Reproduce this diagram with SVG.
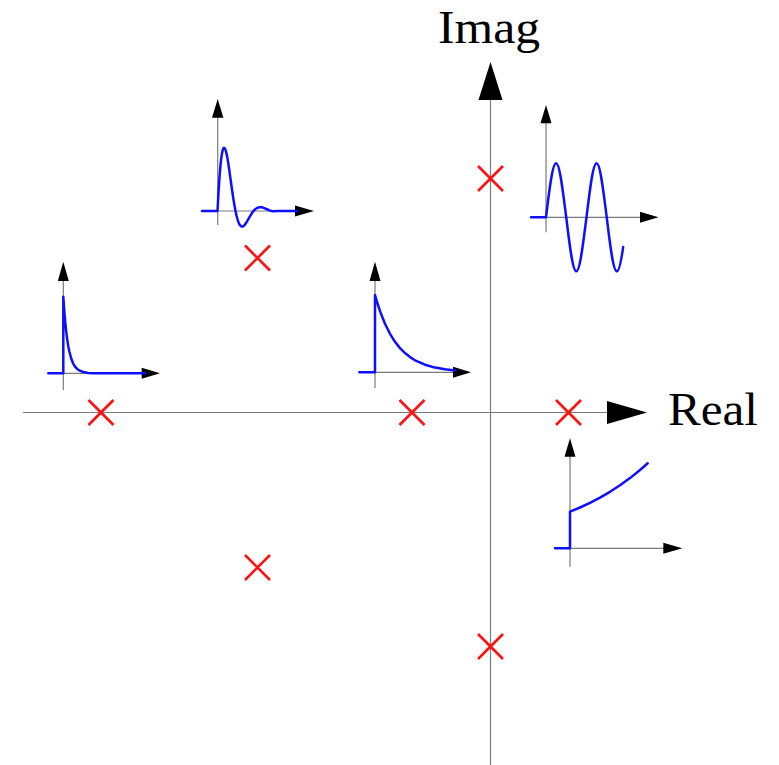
<svg xmlns="http://www.w3.org/2000/svg" width="779" height="765" viewBox="0 0 779 765">
<style>
.ax{stroke:#7a7a7a;stroke-width:1.2;fill:none}
.ah{fill:#000;stroke:none}
.sig{stroke:#0f0fff;stroke-width:2.5;fill:none;stroke-linejoin:round;stroke-linecap:round}
.pole{stroke:#ff1010;stroke-width:2.6;fill:none}
.lbl{font-family:"Liberation Serif","DejaVu Serif",serif;font-size:46px;fill:#000}
</style>
<defs>
<path id="x" d="M-12.5,-12.5 L12.5,12.5 M-12.5,12.5 L12.5,-12.5"/>
</defs>
<g id="axes">
<line class="ax" x1="23" y1="412.5" x2="608" y2="412.5"/>
<polygon class="ah" points="607,401 647,412.5 607,424"/>
<line class="ax" x1="490.5" y1="765" x2="490.5" y2="99"/>
<polygon class="ah" points="478.5,100 490.5,62 502.5,100"/>
<text class="lbl" x="438" y="43" textLength="102" lengthAdjust="spacingAndGlyphs">Imag</text>
<text class="lbl" x="668" y="425" textLength="90" lengthAdjust="spacingAndGlyphs">Real</text>
</g>
<g id="poles">
<use id="pole-real-far" class="pole" href="#x" x="101" y="412.5"/>
<use id="pole-real-near" class="pole" href="#x" x="412" y="412.5"/>
<use id="pole-real-pos" class="pole" href="#x" x="568.5" y="412.5"/>
<use id="pole-cplx-up" class="pole" href="#x" x="257.5" y="258"/>
<use id="pole-cplx-down" class="pole" href="#x" x="257.5" y="567.5"/>
<use id="pole-imag-up" class="pole" href="#x" x="490.5" y="178.5"/>
<use id="pole-imag-down" class="pole" href="#x" x="490.5" y="646.5"/>
</g>
<g id="inset-damped">
<line class="ax" x1="217.7" y1="225" x2="217.7" y2="117"/>
<polygon class="ah" points="212,117.7 217.7,99 223.4,117.7"/>
<line class="ax" x1="202" y1="211" x2="296" y2="211"/>
<polygon class="ah" points="295,205.5 314,211 295,216.5"/>
<polyline class="sig" points="202,211 217.5,211 218.5,192.4 219.5,177.1 220.5,165.1 221.5,156.4 222.5,150.8 223.5,148.1 224.5,147.9 225.5,149.8 226.5,153.5 227.5,158.6 228.5,164.8 229.5,171.6 230.5,178.8 231.5,186 232.5,193 233.5,199.6 234.5,205.5 235.5,211 236.5,215.5 237.5,219.3 238.5,222.2 239.5,224.4 240.5,225.8 241.5,226.5 242.5,226.6 243.5,226 244.5,225.1 245.5,223.9 247.5,220.7 249.5,217.1 251.5,213.8 253.5,211 255.5,209 257.5,207.7 259.5,207.2 261.5,207.3 263.5,207.8 265.5,208.6 267.5,209.5 269.5,210.4 271.5,211 273.5,211.3 277.5,211.1 281,211 297,211"/>
</g>
<g id="inset-fast-decay">
<line class="ax" x1="63.3" y1="390" x2="63.3" y2="280"/>
<polygon class="ah" points="57.8,281 63.3,261.7 68.8,281"/>
<line class="ax" x1="48.3" y1="373.3" x2="143" y2="373.3"/>
<polygon class="ah" points="141.7,367.8 160,373.3 141.7,378.8"/>
<polyline class="sig" points="48.3,373.3 63.3,373.3 63.3,296.7 64.3,311.1 65.3,322.8 66.3,332.3 67.3,340 68.3,346.3 69.3,351.3 71.3,358.8 73.3,363.8 75.3,367 78.3,369.9 83.3,372.1 88.3,372.9 93.3,373.2 98,373.3 145,373.3"/>
</g>
<g id="inset-slow-decay">
<line class="ax" x1="375" y1="388" x2="375" y2="280"/>
<polygon class="ah" points="369.5,281 375,261.7 380.5,281"/>
<line class="ax" x1="359.3" y1="372.3" x2="454" y2="372.3"/>
<polygon class="ah" points="453,366.8 471,372.3 453,377.8"/>
<polyline class="sig" points="359.3,372.3 375,372.3 375,295 378,305 381,313.8 385,323.7 390,333.8 395,341.8 400,348.1 405,353.1 410,357.1 415,360.3 425,364.7 435,367.6 445,369.3 455,370.4"/>
</g>
<g id="inset-oscillation">
<line class="ax" x1="546" y1="232.3" x2="546" y2="122"/>
<polygon class="ah" points="540.5,123.3 546,105 551.5,123.3"/>
<line class="ax" x1="531" y1="217.3" x2="641" y2="217.3"/>
<polygon class="ah" points="640,211.8 658.5,217.3 640,222.8"/>
<path class="sig" d="M531,217.3 H546 c3.385,-28.36 6.481,-54 10.125,-54 c3.644,0 6.741,28.36 10.125,54 c3.385,28.36 6.481,54 10.125,54 c3.644,0 6.741,-28.36 10.125,-54 c3.385,-28.36 6.481,-54 10.125,-54 c3.644,0 6.741,28.36 10.125,54 c3.385,28.36 6.481,54 10.125,54 c2.1,0 4.2,-9.6 6.3,-24.2"/>
</g>
<g id="inset-growth">
<line class="ax" x1="570" y1="566.7" x2="570" y2="456"/>
<polygon class="ah" points="564.5,456.7 570,438.3 575.5,456.7"/>
<line class="ax" x1="555" y1="548.3" x2="664" y2="548.3"/>
<polygon class="ah" points="663.3,542.8 682.3,548.3 663.3,553.8"/>
<polyline class="sig" points="555,548.3 570,548.3 570,511.7 580,507.5 590,502.8 600,497.6 610,491.8 620,485.3 630,478.1 640,470 647.7,463.3"/>
</g>
</svg>
